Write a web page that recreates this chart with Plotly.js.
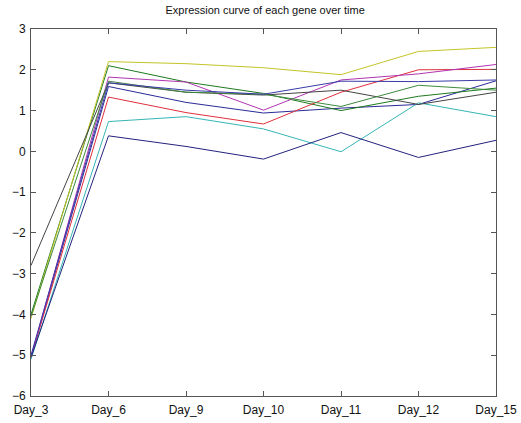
<!DOCTYPE html>
<html>
<head>
<meta charset="utf-8">
<script src="https://cdn.plot.ly/plotly-3.0.1.min.js"></script>
<style>html,body{margin:0;padding:0;background:#fff;}#chart{width:521px;height:423px;}</style>
</head>
<body>
<div id="chart"></div>
<script>
const days = ["Day_3","Day_6","Day_9","Day_10","Day_11","Day_12","Day_15"];
const gene1 = [-5.05, 1.59, 1.20, 0.94, 1.06, 1.15, 1.73];
const gene2 = [-4.00, 2.10, 1.70, 1.42, 1.00, 1.35, 1.55];
const gene3 = [-5.05, 1.33, 0.95, 0.67, 1.45, 2.00, 2.01];
const gene4 = [-5.10, 0.73, 0.85, 0.55, -0.01, 1.19, 0.85];
const gene5 = [-5.05, 1.82, 1.70, 1.01, 1.75, 1.90, 2.13];
const gene6 = [-4.10, 2.20, 2.15, 2.05, 1.88, 2.45, 2.55];
const gene7 = [-2.80, 1.68, 1.45, 1.38, 1.50, 1.15, 1.45];
const gene8 = [-5.05, 0.38, 0.12, -0.19, 0.46, -0.15, 0.27];
const gene9 = [-4.05, 1.72, 1.45, 1.40, 1.10, 1.62, 1.50];
const gene10 = [-5.00, 1.68, 1.50, 1.40, 1.72, 1.71, 1.75];
const yTicks = [-6,-5,-4,-3,-2,-1,0,1,2,3];

const series = [gene1, gene2, gene3, gene4, gene5, gene6, gene7, gene8, gene9, gene10];
const colors = ["#2a2a9a","#1f7a1f","#e0303c","#35b5b5","#b035b0","#c4c428","#444444","#22227e","#3d8a3d","#3a3aa8"];

const traces = series.map((s, i) => ({
  x: days, y: s, type: "scatter", mode: "lines",
  line: {color: colors[i], width: 1}, showlegend: false, hoverinfo: "skip"
}));

const axisCommon = {
  showgrid: false, zeroline: false, showline: true, linecolor: "#555", linewidth: 1,
  mirror: "allticks", ticks: "inside", ticklen: 5, tickcolor: "#555",
  tickfont: {family: "Liberation Sans, Arial, sans-serif", size: 12, color: "#111"}
};

const layout = {
  width: 521, height: 423,
  margin: {l: 31, r: 25, t: 29, b: 27},
  paper_bgcolor: "#fff", plot_bgcolor: "#fff",
  title: {text: "Expression curve of each gene over time", x: 0.509, xanchor: "center", y: 0.977, yanchor: "middle",
          font: {family: "Liberation Sans, Arial, sans-serif", size: 11, color: "#111"}},
  xaxis: Object.assign({}, axisCommon, {type: "category", range: [0, 6], tickvals: days, ticktext: days, ticklabelstandoff: 3}),
  yaxis: Object.assign({}, axisCommon, {range: [-6, 3], tickvals: yTicks, ticklabelstandoff: 2})
};

Plotly.newPlot("chart", traces, layout, {displayModeBar: false, staticPlot: true});
</script>
</body>
</html>
